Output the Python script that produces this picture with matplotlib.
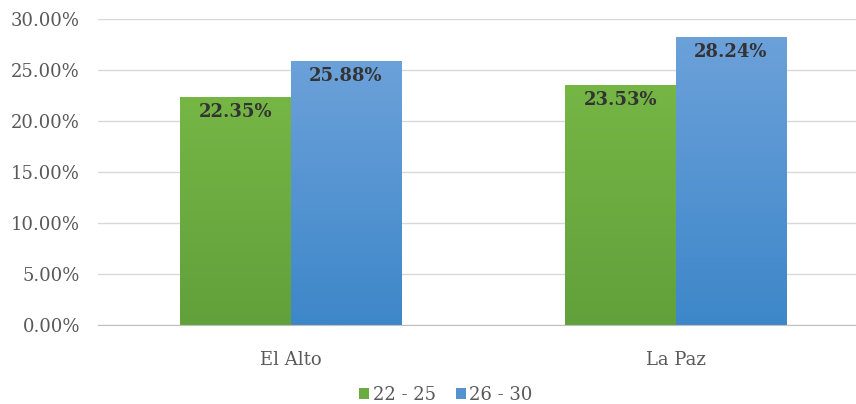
import numpy as np
import matplotlib.pyplot as plt
from matplotlib.colors import LinearSegmentedColormap

# datos
ciudades = ['El Alto', 'La Paz']
edad_22_25 = [22.35, 23.53]
edad_26_30 = [25.88, 28.24]
series = ['22 - 25', '26 - 30']
yticks = [0, 5, 10, 15, 20, 25, 30]

plt.rcParams['font.family'] = ['DejaVu Serif']

fig = plt.figure(figsize=(8.56, 4.04), dpi=100)
ax = fig.add_axes([98/856, 79/404, 770/856, 306/404])

x = np.arange(len(ciudades))
ancho = 0.286

barras_v = ax.bar(x - ancho/2, edad_22_25, ancho, color='#6aab42', label=series[0], zorder=2)
barras_a = ax.bar(x + ancho/2, edad_26_30, ancho, color='#5593d0', label=series[1], zorder=2)

# degradado suave en las barras
grad = np.linspace(1, 0, 256).reshape(-1, 1)
cmaps = [LinearSegmentedColormap.from_list('v', ['#62a03b', '#75b645']),
         LinearSegmentedColormap.from_list('a', ['#3d87c9', '#6ca1da'])]
for barras, cm in zip([barras_v, barras_a], cmaps):
    for b in barras:
        x0, y0 = b.get_x(), b.get_y()
        w, h = b.get_width(), b.get_height()
        im = ax.imshow(grad, cmap=cm, aspect='auto', extent=[x0, x0 + w, y0, y0 + h],
                       origin='upper', zorder=2.5)
        im.set_clip_path(b)

for barras in [barras_v, barras_a]:
    for b in barras:
        ax.annotate(f'{b.get_height():.2f}%', (b.get_x() + b.get_width()/2, b.get_height()),
                    xytext=(0, -4), textcoords='offset points', ha='center', va='top',
                    fontsize=13, fontweight='bold', color='#333333', zorder=4)

ax.set_xlim(-0.5, 1.5)
ax.set_ylim(0, 30)
ax.set_yticks(yticks)
ax.set_yticklabels([f'{v:.2f}%' for v in yticks])
ax.set_xticks(x)
ax.set_xticklabels(ciudades)
ax.tick_params(axis='both', length=0, labelsize=13, colors='#595959')
ax.tick_params(axis='y', pad=13)
ax.tick_params(axis='x', pad=19)
ax.yaxis.grid(True, color='#d9d9d9', linewidth=1, zorder=0)
ax.set_axisbelow(True)
for s in ['top', 'right', 'left']:
    ax.spines[s].set_visible(False)
ax.spines['bottom'].set_color('#bfbfbf')

fig.legend(handles=[barras_v, barras_a], labels=series, loc='center', bbox_to_anchor=(446/856, 9/404),
           ncol=2, frameon=False, fontsize=13, handlelength=0.55, handleheight=0.55,
           handletextpad=0.2, columnspacing=1.1, labelcolor='#595959')

fig.savefig('out.png', dpi=100)
